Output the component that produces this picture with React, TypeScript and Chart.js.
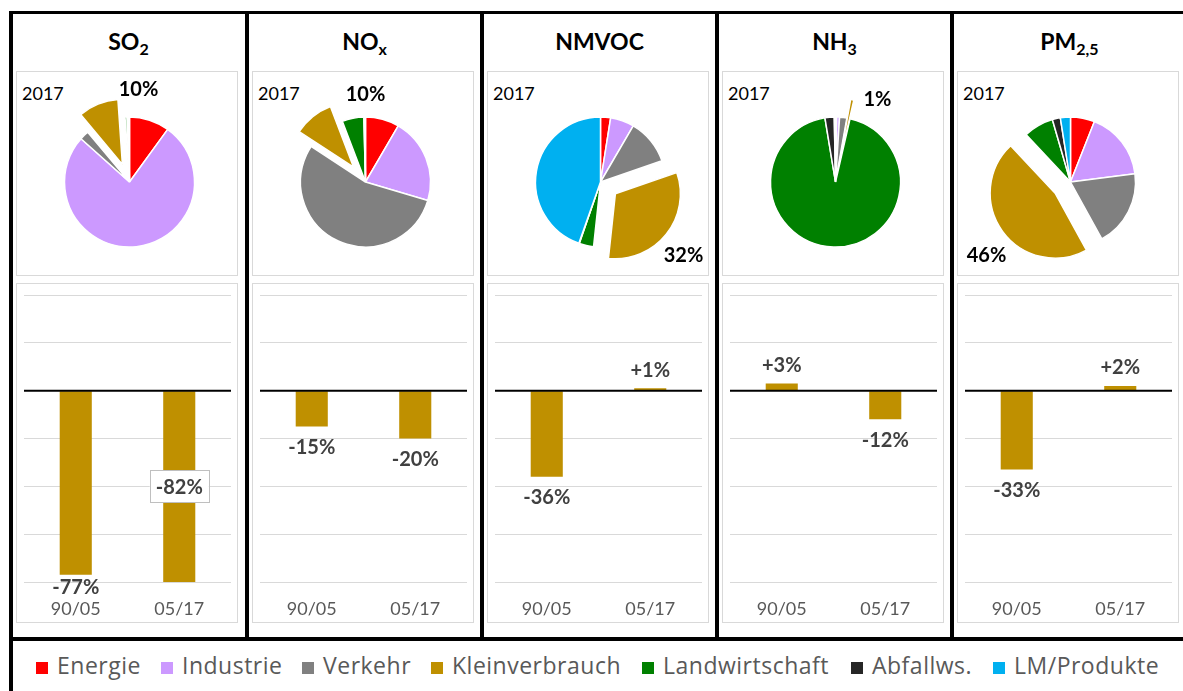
import React, { useEffect, useRef } from "react";
import { Chart, registerables } from "chart.js";

Chart.register(...registerables);

// ---------- data ----------
const sectors = ["Energie", "Industrie", "Verkehr", "Kleinverbrauch", "Landwirtschaft", "Abfallws.", "LM/Produkte"];
const sectorColors = ["#FF0000", "#CC99FF", "#808080", "#BF9000", "#008000", "#262626", "#00B0F0"];

const titleMain = ["SO", "NO", "NMVOC", "NH", "PM"];
const titleSub = ["2", "x", "", "3", "2,5"];
const yearLabel = "2017";

// shares 2017 (%), order as sectors
const shareSO2 = [10, 76.6, 2.3, 10, 0.5, 0.3, 0.3];
const shareNOx = [8.4, 21.2, 54.6, 10, 5.4, 0.2, 0.2];
const shareNMVOC = [2.5, 5.9, 11.3, 32, 3.6, 0.1, 44.6];
const shareNH3 = [0.3, 0.7, 1.8, 0.8, 93.8, 2.3, 0.3];
const sharePM25 = [6, 17, 19, 46, 7.5, 2, 2.5];

// change of Kleinverbrauch emissions (%)
const periods = ["90/05", "05/17"];
const changeSO2 = [-77, -82];
const changeNOx = [-15, -20];
const changeNMVOC = [-36, 1];
const changeNH3 = [3, -12];
const changePM25 = [-33, 2];

const yMin = -80;
const yMax = 40;
const yStep = 20;

const highlightIndex = 3; // Kleinverbrauch (exploded, labelled)

// ---------- styles / layout ----------
const BAR_COLOR = "#BF9000";
const DIVIDERS = [9, 245, 480, 715, 950];
const PIE_LABEL_OFFSETS: [number, number][] = [[9, -92], [0, -87], [83, 74], [42, -82], [-84, 74]];
const BOXED_LABELS = [[false, true], [false, false], [false, false], [false, false], [false, false]];
const EXPLODE = 19;
const LEGEND_X = [36, 161, 302, 431, 642, 851, 993];

const shares = [shareSO2, shareNOx, shareNMVOC, shareNH3, sharePM25];
const changes = [changeSO2, changeNOx, changeNMVOC, changeNH3, changePM25];

function PieChart({ data, left, labelOffset }: { data: number[]; left: number; labelOffset: [number, number] }) {
  const ref = useRef<HTMLCanvasElement>(null);
  useEffect(() => {
    const explodePlugin = {
      id: "explode",
      beforeDatasetsDraw(chart: any) {
        const ca = chart.chartArea;
        const cx = (ca.left + ca.right) / 2;
        const cy = (ca.top + ca.bottom) / 2;
        const el: any = chart.getDatasetMeta(0).data[highlightIndex];
        if (!el) return;
        const mid = (el.startAngle + el.endAngle) / 2;
        el.x = cx + Math.cos(mid) * EXPLODE;
        el.y = cy + Math.sin(mid) * EXPLODE;
      },
    };
    const labelPlugin = {
      id: "pieLabel",
      afterDatasetsDraw(chart: any) {
        const ca = chart.chartArea;
        const cx = (ca.left + ca.right) / 2;
        const cy = (ca.top + ca.bottom) / 2;
        const ctx = chart.ctx;
        ctx.save();
        ctx.font = "bold 20px Lato";
        ctx.fillStyle = "#000";
        ctx.textAlign = "center";
        ctx.textBaseline = "middle";
        ctx.fillText(Math.round(data[highlightIndex]) + "%", cx + labelOffset[0], cy + labelOffset[1]);
        ctx.restore();
      },
    };
    const chart = new Chart(ref.current!, {
      type: "pie",
      data: {
        labels: sectors,
        datasets: [
          {
            data,
            backgroundColor: sectorColors,
            borderColor: "#ffffff",
            borderWidth: 1.5,
            hoverOffset: 0,
            offset: 0,
          },
        ],
      },
      options: {
        animation: false,
        responsive: false,
        events: [],
        layout: { padding: { left: 47.75, right: 42.75, top: 45.25, bottom: 28.25 } },
        plugins: { legend: { display: false }, tooltip: { enabled: false } },
      },
      plugins: [explodePlugin, labelPlugin],
    } as any);
    return () => chart.destroy();
  }, []);
  return (
    <canvas
      ref={ref}
      width={222}
      height={205}
      style={{ position: "absolute", left, top: 71, width: 222, height: 205 }}
    />
  );
}

function BarChart({ values, left, boxed }: { values: number[]; left: number; boxed: boolean[] }) {
  const ref = useRef<HTMLCanvasElement>(null);
  useEffect(() => {
    const zeroLine = {
      id: "zeroLine",
      afterDatasetsDraw(chart: any) {
        const ctx = chart.ctx;
        const y = chart.scales.y.getPixelForValue(0);
        ctx.save();
        ctx.strokeStyle = "#000";
        ctx.lineWidth = 2;
        ctx.beginPath();
        ctx.moveTo(chart.chartArea.left, y);
        ctx.lineTo(chart.chartArea.right, y);
        ctx.stroke();
        ctx.restore();
      },
    };
    const barLabels = {
      id: "barLabels",
      afterDraw(chart: any) {
        const ctx = chart.ctx;
        const ca = chart.chartArea;
        const zeroY = chart.scales.y.getPixelForValue(0);
        ctx.save();
        ctx.font = "bold 20px Lato";
        ctx.textAlign = "center";
        ctx.textBaseline = "middle";
        chart.getDatasetMeta(0).data.forEach((bar: any, i: number) => {
          const v = values[i];
          const text = (v > 0 ? "+" : "") + v + "%";
          if (boxed[i]) {
            const endY = Math.min(bar.y, ca.bottom);
            const yc = (zeroY + endY) / 2;
            const w = ctx.measureText(text).width + 12;
            ctx.fillStyle = "#ffffff";
            ctx.fillRect(bar.x - w / 2, yc - 16, w, 32);
            ctx.strokeStyle = "#bfbfbf";
            ctx.lineWidth = 1;
            ctx.strokeRect(Math.round(bar.x - w / 2) + 0.5, Math.round(yc - 16) + 0.5, Math.round(w), 32);
            ctx.fillStyle = "#404040";
            ctx.fillText(text, bar.x, yc + 1);
          } else {
            const y = v >= 0 ? bar.y - 18 : Math.min(bar.y + 21, ca.bottom + 6);
            ctx.fillStyle = "#404040";
            ctx.fillText(text, bar.x, y);
          }
        });
        ctx.restore();
      },
    };
    const chart = new Chart(ref.current!, {
      type: "bar",
      data: {
        labels: periods,
        datasets: [
          {
            data: values,
            backgroundColor: BAR_COLOR,
            barPercentage: 0.31,
            categoryPercentage: 1,
          },
        ],
      },
      options: {
        animation: false,
        responsive: false,
        events: [],
        layout: { padding: { left: 8, right: 7, top: 12, bottom: 0 } },
        plugins: { legend: { display: false }, tooltip: { enabled: false } },
        scales: {
          x: {
            grid: { display: false, drawTicks: false },
            border: { display: false },
            ticks: { color: "#595959", font: { family: "Lato", size: 18 }, padding: 16 },
            afterFit(scale: any) {
              scale.height = 40;
            },
          },
          y: {
            min: yMin,
            max: yMax,
            ticks: { display: false, stepSize: yStep },
            grid: { color: "#d9d9d9", lineWidth: 1, drawTicks: false },
            border: { display: false },
          },
        },
      },
      plugins: [zeroLine, barLabels],
    } as any);
    return () => chart.destroy();
  }, []);
  return (
    <canvas
      ref={ref}
      width={222}
      height={339}
      style={{ position: "absolute", left, top: 283, width: 222, height: 339 }}
    />
  );
}

const black: React.CSSProperties = { position: "absolute", background: "#000" };

export default function App() {
  return (
    <div
      style={{
        position: "fixed",
        left: 0,
        top: 0,
        width: 1183,
        height: 691,
        overflow: "hidden",
        background: "#fff",
        fontFamily: "Lato, sans-serif",
      }}
    >
      {/* frame */}
      <div style={{ ...black, left: 9, top: 11, width: 1200, height: 3 }} />
      <div style={{ ...black, left: 9, top: 637, width: 1200, height: 4 }} />
      <div style={{ ...black, left: 9, top: 11, width: 4, height: 700 }} />
      {DIVIDERS.slice(1).map((d) => (
        <div key={d} style={{ ...black, left: d, top: 11, width: 4, height: 630 }} />
      ))}
      <div style={{ ...black, left: 1185, top: 11, width: 4, height: 700 }} />

      {DIVIDERS.map((d, i) => {
        const boxLeft = d + 7;
        return (
          <React.Fragment key={i}>
            <div
              style={{
                position: "absolute",
                left: d + 4,
                width: 231,
                top: 29.5,
                textAlign: "center",
                font: "bold 23px/23px Lato",
                color: "#000",
                whiteSpace: "nowrap",
              }}
            >
              {titleMain[i]}
              {titleSub[i] && (
                <span style={{ fontSize: 16, verticalAlign: "-5px", lineHeight: 0 }}>{titleSub[i]}</span>
              )}
            </div>
            <div
              style={{
                position: "absolute",
                left: boxLeft,
                top: 71,
                width: 222,
                height: 205,
                border: "1px solid #d9d9d9",
                boxSizing: "border-box",
              }}
            />
            <div
              style={{
                position: "absolute",
                left: boxLeft,
                top: 283,
                width: 222,
                height: 340,
                border: "1px solid #d9d9d9",
                boxSizing: "border-box",
              }}
            />
            <div
              style={{
                position: "absolute",
                left: boxLeft + 6,
                top: 84,
                font: "18px/18px Lato",
                color: "#000",
              }}
            >
              {yearLabel}
            </div>
            <PieChart data={shares[i]} left={boxLeft} labelOffset={PIE_LABEL_OFFSETS[i]} />
            <BarChart values={changes[i]} left={boxLeft} boxed={BOXED_LABELS[i]} />
          </React.Fragment>
        );
      })}

      {/* legend */}
      {sectors.map((s, i) => (
        <React.Fragment key={s}>
          <div
            style={{
              position: "absolute",
              left: LEGEND_X[i],
              top: 662,
              width: 12,
              height: 12,
              background: sectorColors[i],
            }}
          />
          <div
            style={{
              position: "absolute",
              left: LEGEND_X[i] + 21,
              top: 654,
              font: "23px/23px 'Open Sans'",
              letterSpacing: "0.5px",
              color: "#595959",
              whiteSpace: "nowrap",
            }}
          >
            {s}
          </div>
        </React.Fragment>
      ))}
    </div>
  );
}
